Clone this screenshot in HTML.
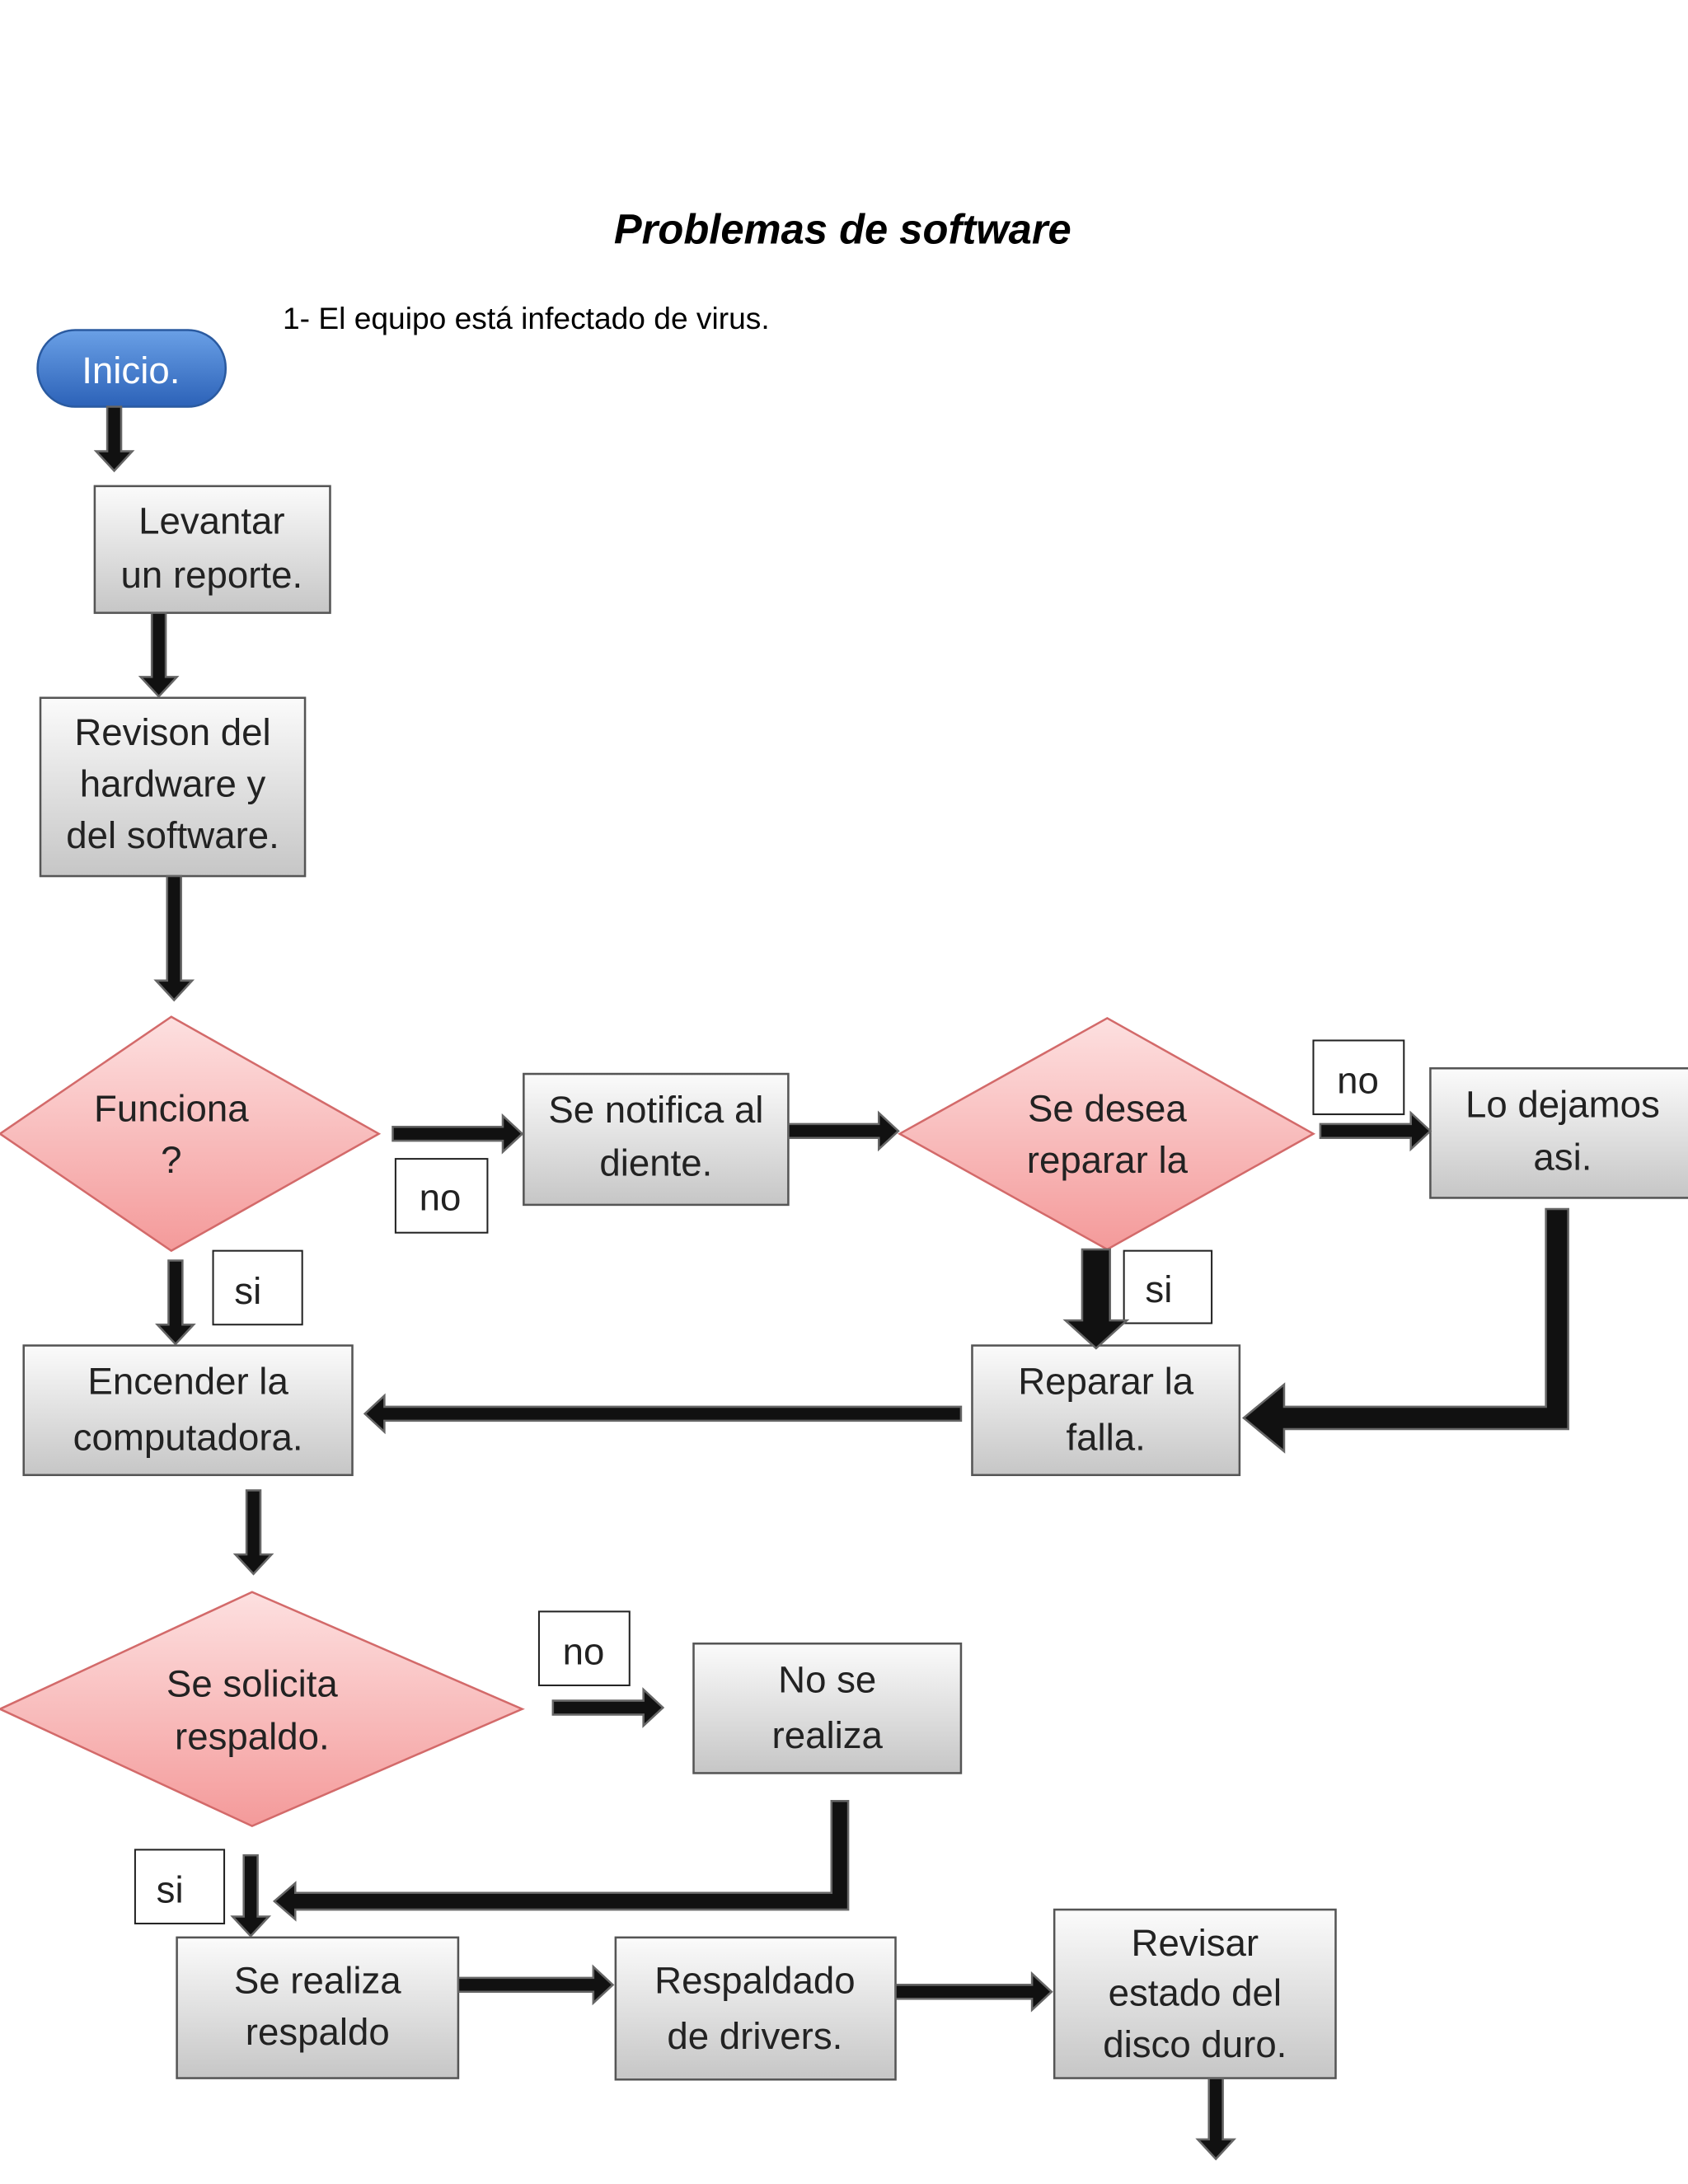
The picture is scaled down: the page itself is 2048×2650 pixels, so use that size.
<!DOCTYPE html>
<html><head><meta charset="utf-8"><style>
html,body{margin:0;padding:0;background:#fff}
svg{display:block}
text{font-family:"Liberation Sans",sans-serif}
</style></head><body>
<svg width="2048" height="2650" viewBox="0 0 1212 1568" preserveAspectRatio="none" xmlns="http://www.w3.org/2000/svg">
<defs>
<linearGradient id="gb" x1="0" y1="0" x2="0" y2="1"><stop offset="0" stop-color="#fbfbfb"/><stop offset="1" stop-color="#c6c6c6"/></linearGradient>
<linearGradient id="gp" x1="0" y1="0" x2="0" y2="1"><stop offset="0" stop-color="#fde0e0"/><stop offset="1" stop-color="#f49a9a"/></linearGradient>
<linearGradient id="gbl" x1="0" y1="0" x2="0" y2="1"><stop offset="0" stop-color="#6aa0e6"/><stop offset="1" stop-color="#2c62b8"/></linearGradient>
</defs>
<rect width="1212" height="1568" fill="#fff"/>
<text x="605" y="175" text-anchor="middle" font-size="30" font-weight="bold" font-style="italic">Problemas  de  software</text>
<text x="203" y="236" font-size="22">1-   El equipo está infectado de virus.</text>

<g stroke="#555" stroke-width="1.5" fill="url(#gb)">
<rect x="68" y="349" width="169" height="91"/>
<rect x="29" y="501" width="190" height="128"/>
<rect x="376" y="771" width="190" height="94"/>
<rect x="1027" y="767" width="190" height="93"/>
<rect x="17" y="966" width="236" height="93"/>
<rect x="698" y="966" width="192" height="93"/>
<rect x="498" y="1180" width="192" height="93"/>
<rect x="127" y="1391" width="202" height="101"/>
<rect x="442" y="1391" width="201" height="102"/>
<rect x="757" y="1371" width="202" height="121"/>
</g>
<g stroke="#222" stroke-width="1.2" fill="#fff">
<rect x="284" y="832" width="66" height="53"/>
<rect x="943" y="747" width="65" height="53"/>
<rect x="153" y="898" width="64" height="53"/>
<rect x="807" y="898" width="63" height="52"/>
<rect x="387" y="1157" width="65" height="53"/>
<rect x="97" y="1328" width="64" height="53"/>
</g>
<rect x="27" y="237" width="135" height="55" rx="27" fill="url(#gbl)" stroke="#2a5aa0" stroke-width="1.5"/>
<g stroke="#d36a6a" stroke-width="1.5" fill="url(#gp)">
<polygon points="0,814 123,730 272,814 123,898"/>
<polygon points="646,814 795,731 943,814 795,897"/>
<polygon points="0,1227 181,1143 375,1227 181,1311"/>
</g>

<g fill="#111" stroke="#666" stroke-width="1.5">
<polygon points="77,292 87,292 87,324 95,324 82,338 69,324 77,324"/>
<polygon points="109,440 119,440 119,486 127,486 114,500 101,486 109,486"/>
<polygon points="120,629 130,629 130,704 138,704 125,718 112,704 120,704"/>
<polygon points="121,905 131,905 131,951 139,951 126,965 113,951 121,951"/>
<polygon points="777,897 797,897 797,948 809,948 787,968 765,948 777,948"/>
<polygon points="177,1070 187,1070 187,1116 195,1116 182,1130 169,1116 177,1116"/>
<polygon points="175,1332 185,1332 185,1376 193,1376 180,1390 167,1376 175,1376"/>
<polygon points="868,1492 878,1492 878,1536 886,1536 873,1550 860,1536 868,1536"/>
<polygon points="282,809 361,809 361,801 375,814 361,827 361,819 282,819"/>
<polygon points="566,807 631,807 631,799 645,812 631,825 631,817 566,817"/>
<polygon points="948,807 1013,807 1013,799 1027,812 1013,825 1013,817 948,817"/>
<polygon points="397,1221 462,1221 462,1213 476,1226 462,1239 462,1231 397,1231"/>
<polygon points="329,1420 426,1420 426,1412 440,1425 426,1438 426,1430 329,1430"/>
<polygon points="643,1425 741,1425 741,1417 755,1430 741,1443 741,1435 643,1435"/>
<polygon points="690,1010 276,1010 276,1002 262,1015 276,1028 276,1020 690,1020"/>
<polygon points="1110,868 1126,868 1126,1026 922,1026 922,1042 893,1018 922,994 922,1010 1110,1010"/>
<polygon points="597,1293 609,1293 609,1371 212,1371 212,1378 197,1365 212,1352 212,1359 597,1359"/>
</g>

<g font-size="27" fill="#222" text-anchor="middle">
<text x="94" y="275" fill="#fff">Inicio.</text>
<text x="152" y="383">Levantar</text><text x="152" y="422">un reporte.</text>
<text x="124" y="535">Revison del</text><text x="124" y="572">hardware y</text><text x="124" y="609">del software.</text>
<text x="123" y="805">Funciona</text><text x="123" y="842">?</text>
<text x="471" y="806">Se notifica al</text><text x="471" y="844">diente.</text>
<text x="795" y="805">Se desea</text><text x="795" y="842">reparar la</text>
<text x="1122" y="802">Lo dejamos</text><text x="1122" y="840">asi.</text>
<text x="135" y="1001">Encender la</text><text x="135" y="1041">computadora.</text>
<text x="794" y="1001">Reparar la</text><text x="794" y="1041">falla.</text>
<text x="181" y="1218">Se solicita</text><text x="181" y="1256">respaldo.</text>
<text x="594" y="1215">No se</text><text x="594" y="1255">realiza</text>
<text x="228" y="1431">Se realiza</text><text x="228" y="1468">respaldo</text>
<text x="542" y="1431">Respaldado</text><text x="542" y="1471">de drivers.</text>
<text x="858" y="1404">Revisar</text><text x="858" y="1440">estado del</text><text x="858" y="1477">disco duro.</text>
<text x="316" y="869">no</text>
<text x="975" y="785">no</text>
<text x="178" y="936">si</text>
<text x="832" y="935">si</text>
<text x="419" y="1195">no</text>
<text x="122" y="1366">si</text>
</g>
</svg>
</body></html>
